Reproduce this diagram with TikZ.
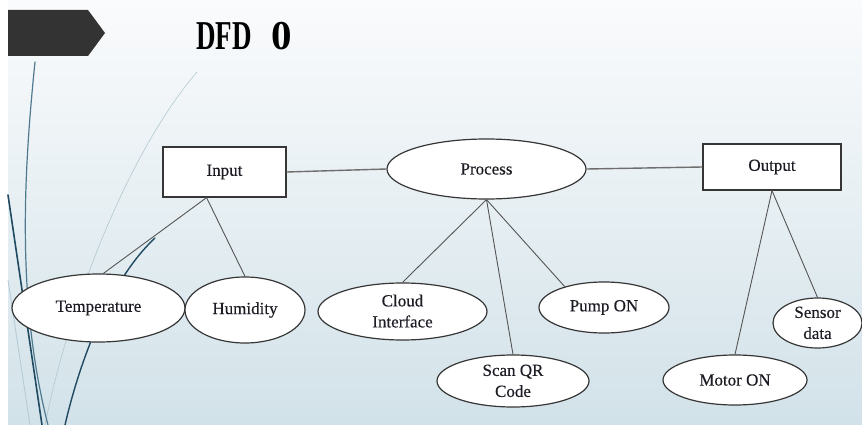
\documentclass[tikz,border=0pt]{standalone}
\usepackage{fontspec}
\setmainfont{Liberation Serif}
\newfontfamily\labelfont[FakeBold=0.35]{Liberation Serif}
\usetikzlibrary{shapes.geometric}

\definecolor{slidetop}{HTML}{FAFBFC}
\definecolor{slidebot}{HTML}{D2E2E9}
\definecolor{banner}{HTML}{333333}
\definecolor{edge}{HTML}{363636}
\definecolor{wire}{HTML}{555555}
\definecolor{inktext}{HTML}{1C1C24}
\definecolor{wispdark}{HTML}{1F4A62}
\definecolor{wispmid}{HTML}{4F7A90}
\definecolor{wisplight}{HTML}{B2C8D3}

% two-line label that does not enlarge its shape
\newcommand{\stacklabel}[2]{\smash{\raisebox{-5.5pt}{\begin{tabular}[c]{@{}c@{}}#1\\#2\end{tabular}}}}

\tikzset{
  txt/.style={font=\labelfont\fontsize{17}{21}\selectfont, text=inktext},
  store/.style={txt, draw=edge, line width=1.2pt, fill=white, rectangle, inner sep=0pt},
  bubble/.style={txt, draw=edge, line width=1.2pt, fill=white, ellipse, inner sep=0pt},
  link/.style={draw=wire, line width=0.9pt},
  mainlink/.style={draw=wire!85, line width=1.4pt},
  wisp/.style={line cap=round},
}

\begin{document}
\begin{tikzpicture}[x=1pt, y=-1pt]
  \useasboundingbox (0,0) rectangle (862,425);
  % slide background
  \fill[white] (0,0) rectangle (862,425);
  \fill[top color=slidetop, bottom color=slidebot] (8,0) rectangle (862,425);

  % decorative wisps on the left edge
  \draw[wisp, wisplight, line width=0.6pt] (197,72) .. controls (130,150) and (70,300) .. (45,425);
  \draw[wisp, wisplight, line width=0.8pt] (8,280) -- (30,425);
  \draw[wisp, wispmid, line width=1.2pt] (35,62) .. controls (24,170) and (16,300) .. (48,425);
  \draw[wisp, wispdark, line width=1.6pt] (8,195) -- (42,425);
  \draw[wisp, wispdark, line width=1.4pt] (65,425) .. controls (80,360) and (110,280) .. (155,238);

  % title banner
  \fill[banner] (8,10) -- (88,10) -- (105,33) -- (88,56) -- (8,56) -- cycle;
  \node[anchor=base west, inner sep=0pt, text=black] (title) at (196,50)
    {\fontsize{41}{44}\selectfont\bfseries\scalebox{0.66}[1]{DFD}\hspace{0.48em}0};

  % main flow
  \node[store, minimum width=123pt, minimum height=50pt] (in) at (224.5,172) {Input};
  \node[bubble, minimum width=199pt, minimum height=60pt] (proc) at (486.5,169) {Process};
  \node[store, minimum width=138pt, minimum height=46pt] (out) at (772,167) {Output};

  % inputs
  \node[bubble, minimum width=173pt, minimum height=68pt] (temp) at (98.5,308) {Temperature};
  \node[bubble, minimum width=120pt, minimum height=66pt] (hum) at (245,310) {Humidity};

  % processing steps
  \node[bubble, minimum width=169pt, minimum height=57pt] (cloud) at (402.5,311.5) {\stacklabel{Cloud}{Interface}};
  \node[bubble, minimum width=152pt, minimum height=52pt] (qr) at (513,381) {\stacklabel{Scan QR}{Code}};
  \node[bubble, minimum width=130pt, minimum height=51pt] (pump) at (604,307.5) {Pump ON};

  % outputs
  \node[bubble, minimum width=144pt, minimum height=50pt] (motor) at (735,380) {Motor ON};
  \node[bubble, minimum width=89pt, minimum height=50pt] (sensor) at (817.5,323) {\stacklabel{Sensor}{data}};

  % connectors
  \coordinate (inj) at (in.-125);
  \draw[mainlink] (in.east) -- (proc.west);
  \draw[mainlink] (proc.east) -- (out.west);
  \draw[link] (inj) -- (temp.82);
  \draw[link] (inj) -- (hum.north);
  \draw[link] (proc.south) -- (cloud.north);
  \draw[link] (proc.south) -- (qr.north);
  \draw[link] (proc.south) -- (pump.152);
  \draw[link] (out.south) -- (motor.north);
  \draw[link] (out.south) -- (sensor.north);
\end{tikzpicture}
\end{document}
